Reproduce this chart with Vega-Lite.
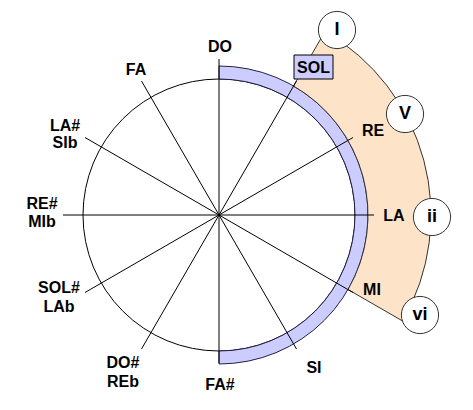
{
  "$schema": "https://vega.github.io/schema/vega-lite/v6.json",
  "width": 473,
  "height": 410,
  "padding": 0,
  "autosize": {"type": "fit", "contains": "padding"},
  "background": "white",
  "config": {"view": {"stroke": null}},
  "datasets": {
    "arcs": [
      {"part": "circle", "t0": 0, "t1": 6.2832, "r0": 0, "r1": 136},
      {"part": "band", "t0": 0, "t1": 3.1416, "r0": 136, "r1": 149},
      {"part": "sector", "t0": 0.5236, "t1": 2.0944, "r0": 149, "r1": 212}
    ],
    "spokes": [
      {"x": 0, "y": 156, "x2": 0, "y2": -148},
      {"x": 77.5, "y": 134, "x2": -77.5, "y2": -134},
      {"x": 134, "y": 77.5, "x2": -134, "y2": -77.5},
      {"x": 155, "y": 0, "x2": -156, "y2": 0},
      {"x": 134, "y": -77.5, "x2": -134, "y2": 77.5},
      {"x": 77.5, "y": -134, "x2": -77.5, "y2": 134}
    ],
    "notes": [
      {"t": "DO", "x": 1, "y": 168},
      {"t": "RE", "x": 154, "y": 84},
      {"t": "LA", "x": 175, "y": -1},
      {"t": "MI", "x": 153, "y": -75},
      {"t": "SI", "x": 95, "y": -153},
      {"t": "FA#", "x": 1, "y": -170},
      {"t": "DO#", "x": -96, "y": -148},
      {"t": "REb", "x": -96, "y": -167},
      {"t": "SOL#", "x": -160, "y": -73},
      {"t": "LAb", "x": -160, "y": -92},
      {"t": "RE#", "x": -177, "y": 11},
      {"t": "MIb", "x": -177, "y": -7},
      {"t": "LA#", "x": -154, "y": 89},
      {"t": "SIb", "x": -154, "y": 72},
      {"t": "FA", "x": -83, "y": 145}
    ],
    "box": [{"t": "SOL", "x": 75, "x2": 114, "y": 160, "y2": 136, "tx": 94.5, "ty": 147}],
    "chords": [
      {"t": "I", "x": 118, "y": 185},
      {"t": "V", "x": 186, "y": 101},
      {"t": "ii", "x": 213, "y": -2},
      {"t": "vi", "x": 201, "y": -100}
    ]
  },
  "layer": [
    {
      "data": {"name": "arcs"},
      "mark": {"type": "arc", "strokeWidth": 1},
      "encoding": {
        "x": {"datum": 0, "type": "quantitative", "scale": {"domain": [-219, 254], "nice": false, "zero": false}, "axis": null},
        "y": {"datum": 0, "type": "quantitative", "scale": {"domain": [-195, 215], "nice": false, "zero": false}, "axis": null},
        "theta": {"field": "t0", "type": "quantitative", "scale": null, "stack": null},
        "theta2": {"field": "t1"},
        "radius": {"field": "r0", "type": "quantitative", "scale": {"type": "linear", "domain": [0, 250], "range": [0, 250], "zero": true}},
        "radius2": {"field": "r1"},
        "fill": {"field": "part", "type": "nominal", "scale": {"domain": ["circle", "band", "sector"], "range": ["#ffffff", "#ccccff", "#fde4c9"]}, "legend": null},
        "stroke": {"field": "part", "type": "nominal", "scale": {"domain": ["circle", "band", "sector"], "range": ["#000000", "#222244", "#333333"]}, "legend": null}
      }
    },
    {
      "data": {"name": "spokes"},
      "mark": {"type": "rule", "color": "#000000", "strokeWidth": 1},
      "encoding": {
        "x": {"field": "x", "type": "quantitative"},
        "y": {"field": "y", "type": "quantitative"},
        "x2": {"field": "x2"},
        "y2": {"field": "y2"}
      }
    },
    {
      "data": {"name": "notes"},
      "mark": {"type": "text", "font": "Liberation Sans", "fontSize": 16, "fontWeight": "bold", "color": "#000000", "align": "center", "baseline": "middle"},
      "encoding": {
        "x": {"field": "x", "type": "quantitative"},
        "y": {"field": "y", "type": "quantitative"},
        "text": {"field": "t"}
      }
    },
    {
      "data": {"name": "box"},
      "mark": {"type": "rect", "fill": "#ccccff", "stroke": "#000000", "strokeWidth": 1},
      "encoding": {
        "x": {"field": "x", "type": "quantitative"},
        "x2": {"field": "x2"},
        "y": {"field": "y", "type": "quantitative"},
        "y2": {"field": "y2"}
      }
    },
    {
      "data": {"name": "box"},
      "mark": {"type": "text", "font": "Liberation Sans", "fontSize": 16, "fontWeight": "bold", "color": "#000000", "align": "center", "baseline": "middle"},
      "encoding": {
        "x": {"field": "tx", "type": "quantitative"},
        "y": {"field": "ty", "type": "quantitative"},
        "text": {"field": "t"}
      }
    },
    {
      "data": {"name": "chords"},
      "mark": {"type": "point", "shape": "circle", "filled": true, "fill": "#ffffff", "stroke": "#333333", "strokeWidth": 1, "size": 1385, "opacity": 1},
      "encoding": {
        "x": {"field": "x", "type": "quantitative"},
        "y": {"field": "y", "type": "quantitative"}
      }
    },
    {
      "data": {"name": "chords"},
      "mark": {"type": "text", "font": "Liberation Sans", "fontSize": 18, "fontWeight": "bold", "color": "#000000", "align": "center", "baseline": "middle"},
      "encoding": {
        "x": {"field": "x", "type": "quantitative"},
        "y": {"field": "y", "type": "quantitative"},
        "text": {"field": "t"}
      }
    }
  ]
}
